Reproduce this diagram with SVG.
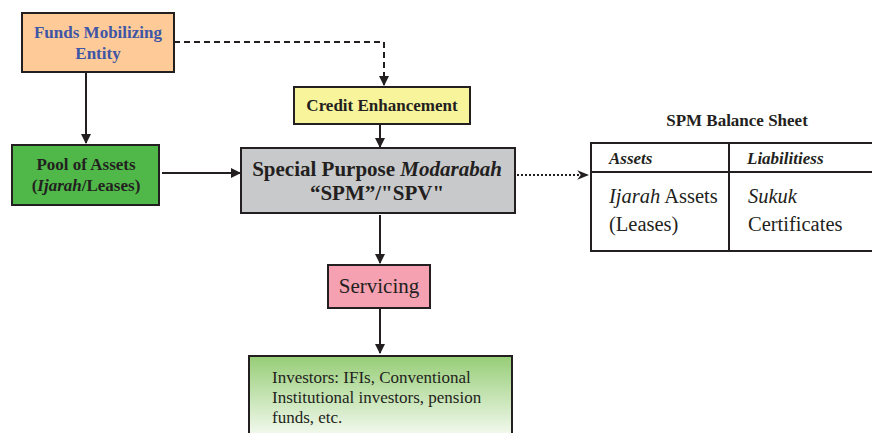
<svg xmlns="http://www.w3.org/2000/svg" width="872" height="433" viewBox="0 0 872 433">
<style>
text{font-family:"Liberation Serif","Times New Roman",serif;fill:#231f20}
.b{font-weight:bold}
.box{stroke:#231f20;stroke-width:2}
.ln{stroke:#231f20;stroke-width:2;fill:none}
</style>
<defs>
<marker id="ah" viewBox="0 0 10 10" refX="9" refY="5" markerWidth="5" markerHeight="5" orient="auto"><path d="M0,0 L10,5 L0,10 z" fill="#231f20"/></marker>
<marker id="ah2" viewBox="0 0 10 10" refX="9" refY="5" markerWidth="6" markerHeight="6" orient="auto"><path d="M0,1 L10,5 L0,9 L3,5 z" fill="#231f20"/></marker>
<linearGradient id="g" x1="0" y1="0" x2="0" y2="1"><stop offset="0" stop-color="#96cd76"/><stop offset="1" stop-color="#f4faf0"/></linearGradient>
</defs>
<g id="connectors">
<path class="ln" d="M174,42 H384 V85" stroke-dasharray="6,4" marker-end="url(#ah)"/>
<path class="ln" d="M86,73 V143" marker-end="url(#ah)"/>
<path class="ln" d="M162,173 H240" marker-end="url(#ah)"/>
<path class="ln" d="M380,125 V147" marker-end="url(#ah)"/>
<path class="ln" d="M517,175 H588" stroke-dasharray="2,2" marker-end="url(#ah2)"/>
<path class="ln" d="M380,215 V263" marker-end="url(#ah)"/>
<path class="ln" d="M380,309 V353" marker-end="url(#ah)"/>
</g>
<g id="funds">
<rect class="box" x="22" y="13" width="152" height="59" fill="#fecb98"/>
<text class="b" x="98" y="38" font-size="17" text-anchor="middle" style="fill:#3f56a6">Funds Mobilizing</text>
<text class="b" x="98" y="59" font-size="17" text-anchor="middle" style="fill:#3f56a6">Entity</text>
</g>
<g id="credit">
<rect class="box" x="294" y="87" width="176" height="37" fill="#f8f49c"/>
<text class="b" x="382" y="111" font-size="17" text-anchor="middle">Credit Enhancement</text>
</g>
<g id="pool">
<rect class="box" x="12" y="145" width="147" height="60" fill="#4fb848"/>
<text class="b" x="86" y="170" font-size="17" text-anchor="middle">Pool of Assets</text>
<text class="b" x="86" y="191" font-size="17" text-anchor="middle">(<tspan font-style="italic">Ijarah</tspan>/Leases)</text>
</g>
<g id="spm">
<rect class="box" x="241" y="148" width="274" height="65" fill="#c8c9cb"/>
<text class="b" x="377" y="176" font-size="21" text-anchor="middle">Special Purpose <tspan font-style="italic">Modarabah</tspan></text>
<text class="b" x="377" y="200" font-size="21" text-anchor="middle">“SPM”/"SPV"</text>
</g>
<g id="balance">
<text class="b" x="737" y="126" font-size="17" text-anchor="middle">SPM Balance Sheet</text>
<path class="ln" d="M872,143 H591 V251 H872 M591,172 H872 M729,143 V251"/>
<text class="b" x="609" y="164" font-size="17" font-style="italic">Assets</text>
<text class="b" x="747" y="164" font-size="17" font-style="italic">Liabilitiess</text>
<text x="609" y="203" font-size="20.5"><tspan font-style="italic">Ijarah</tspan> Assets</text>
<text x="609" y="231" font-size="20.5">(Leases)</text>
<text x="748" y="203" font-size="20.5" font-style="italic">Sukuk</text>
<text x="748" y="231" font-size="20.5">Certificates</text>
</g>
<g id="servicing">
<rect class="box" x="328" y="265" width="102" height="43" fill="#f5a1b1"/>
<text x="379" y="293" font-size="21" text-anchor="middle">Servicing</text>
</g>
<g id="investors">
<rect class="box" x="249" y="356" width="263" height="80" fill="url(#g)"/>
<text x="272" y="383" font-size="17">Investors: IFIs, Conventional</text>
<text x="272" y="403" font-size="17">Institutional investors, pension</text>
<text x="272" y="423" font-size="17">funds, etc.</text>
</g>
</svg>
